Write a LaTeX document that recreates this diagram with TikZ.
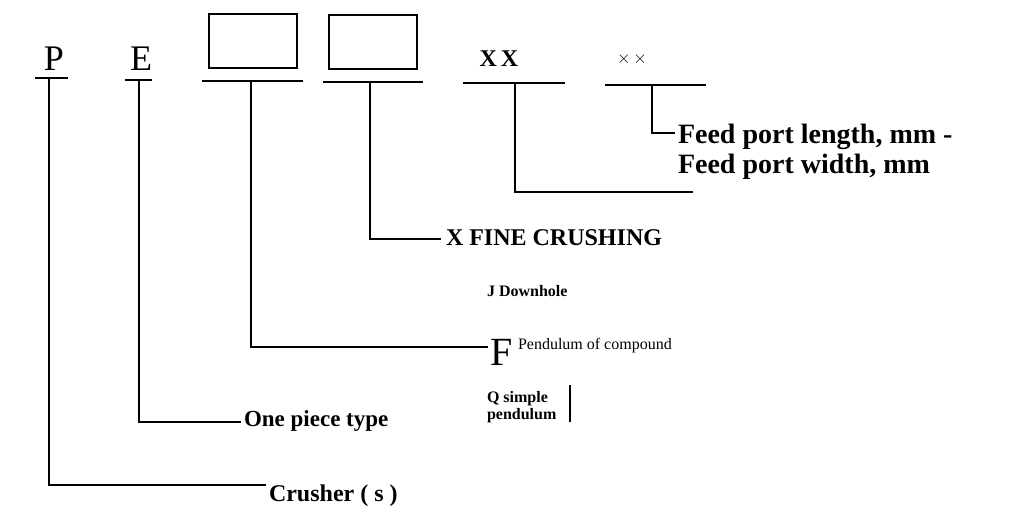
\documentclass[tikz,border=0pt]{standalone}
\usepackage{fontspec}
\setmainfont{Liberation Serif}
\usetikzlibrary{positioning}

\begin{document}
\begin{tikzpicture}[
  x=1pt, y=-1pt,
  line width=2pt,
  letter/.style={font=\fontsize{36}{36}\selectfont, inner sep=0pt},
  codebox/.style={draw, minimum width=88pt, minimum height=54pt, inner sep=0pt},
  biglbl/.style={font=\bfseries\fontsize{24}{26}\selectfont, inner sep=0pt, anchor=west, align=left},
  smalllbl/.style={font=\bfseries\fontsize{16}{17}\selectfont, inner sep=0pt, anchor=west, align=left},
  rule/.style={line width=2.4pt}
]
\useasboundingbox (0,0) rectangle (1024,517);

\node[letter] (p) at (54,59) {P};
\node[letter] (e) at (141,59) {E};
\node[codebox] (boxA) at (253,41) {};
\node[codebox] (boxB) at (372.5,42) {};
\node[font=\bfseries\fontsize{24}{24}\selectfont, inner sep=0pt] (xx) at (499,59) {X\,X};
\node[font=\fontsize{18}{18}\selectfont, inner sep=0pt] (times) at (632,59) {$\times$\hspace{3pt}$\times$};

\draw[rule] (35,78) -- (68,78);
\draw[rule] (125,80) -- (152,80);
\draw[rule] (202,81) -- (303,81);
\draw[rule] (323,82) -- (423,82);
\draw[rule] (463,83) -- (565,83);
\draw[rule] (605,85) -- (706,85);

\coordinate (pTick) at (49,78);
\coordinate (eTick) at (139,80);
\coordinate (boxATick) at (251,81);
\coordinate (boxBTick) at (370,82);
\coordinate (xxTick) at (515,83);
\coordinate (timesTick) at (652,85);
\coordinate (xxEnd) at (693,192);

\node[biglbl] (crusher) at (268,496) {Crusher ( s )};
\node[biglbl, font=\bfseries\fontsize{23}{25}\selectfont] (onepiece) at (243,421) {One piece type};
\node[font=\fontsize{40}{40}\selectfont, inner sep=0pt, anchor=west] (f) at (489,352) {F};
\node[font=\fontsize{16}{16}\selectfont, inner sep=0pt, anchor=west] (compound) at (517,346) {Pendulum of compound};
\node[smalllbl] (downhole) at (486,291) {J Downhole};
\node[smalllbl] (simple) at (486,407) {Q simple\\pendulum};
\node[biglbl] (fine) at (445,238) {X FINE CRUSHING};
\node[biglbl, font=\bfseries\fontsize{28}{30}\selectfont] (feed) at (677,152) {Feed port length, mm -\\Feed port width, mm};

\draw (pTick) |- ([shift={(-2pt,11pt)}]crusher.west);
\draw (eTick) |- ([shift={(-2pt,-1pt)}]onepiece.west);
\draw (boxATick) |- ([shift={(-1pt,5pt)}]f.west);
\draw (boxBTick) |- ([shift={(-4pt,-1pt)}]fine.west);
\draw (xxTick) |- (xxEnd);
\draw (timesTick) |- ([shift={(-2pt,19pt)}]feed.west);
\draw[line width=1.5pt] (570,385) -- (570,422);
\end{tikzpicture}
\end{document}
